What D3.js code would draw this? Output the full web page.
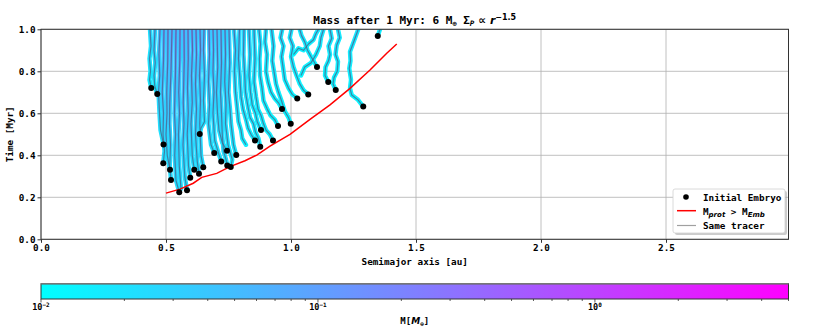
<!DOCTYPE html>
<html>
<head>
<meta charset="utf-8">
<script src="https://cdn.jsdelivr.net/npm/d3@7/dist/d3.min.js"></script>
<style>
body { margin: 0; background: #fff; }
text { font-family: "DejaVu Sans Mono", monospace; font-weight: bold; fill: #000; }
</style>
</head>
<body>
<div id="chart"></div>
<script>

// axis ticks
var xTicks = [0, 0.5, 1.0, 1.5, 2.0, 2.5];
var yTicks = [0, 0.2, 0.4, 0.6, 0.8, 1.0];

// initial embryos (semimajor axis [au], time [Myr])
var embryoA = [0.441, 0.465, 0.490, 0.489, 0.516, 0.520, 0.553, 0.584, 0.597, 0.613, 0.632, 0.635, 0.649,
	0.693, 0.721, 0.744, 0.745, 0.759, 0.781, 0.856, 0.877, 0.880, 0.928, 0.948, 0.964, 0.999,
	1.025, 1.069, 1.104, 1.149, 1.179, 1.289, 1.347];
var embryoT = [0.720, 0.692, 0.452, 0.362, 0.331, 0.282, 0.224, 0.233, 0.293, 0.331, 0.312, 0.501, 0.343,
	0.411, 0.371, 0.422, 0.352, 0.344, 0.401, 0.471, 0.441, 0.520, 0.471, 0.540, 0.620, 0.550,
	0.671, 0.690, 0.820, 0.749, 0.711, 0.632, 0.968];

// M_prot > M_Emb curve
var protA = [0.500, 0.556, 0.609, 0.643, 0.703, 0.756, 0.816, 0.863, 0.916, 0.996, 1.076, 1.156, 1.236, 1.316, 1.383, 1.423];
var protT = [0.220, 0.239, 0.267, 0.295, 0.314, 0.346, 0.374, 0.401, 0.444, 0.500, 0.571, 0.640, 0.719, 0.806, 0.886, 0.930];

// tracer tracks [a, t]
var tracks = [
	[[0.441,0.72],[0.434,0.76],[0.438,0.80],[0.434,0.86],[0.440,0.92],[0.436,1.0]],
	[[0.465,0.692],[0.455,0.73],[0.452,0.78],[0.457,0.84],[0.452,0.90],[0.456,1.0]],
	[[0.490,0.452],[0.478,0.52],[0.474,0.60],[0.470,0.70],[0.475,0.78],[0.472,0.88],[0.476,1.0]],
	[[0.489,0.362],[0.494,0.42],[0.488,0.50],[0.490,0.60],[0.485,0.70],[0.490,0.85],[0.492,1.0]],
	[[0.516,0.331],[0.505,0.40],[0.500,0.50],[0.504,0.60],[0.503,0.70],[0.507,0.85],[0.508,1.0]],
	[[0.520,0.282],[0.515,0.35],[0.518,0.45],[0.514,0.55],[0.515,0.65],[0.520,0.80],[0.524,1.0]],
	[[0.553,0.224],[0.540,0.28],[0.535,0.40],[0.538,0.50],[0.534,0.60],[0.538,0.80],[0.540,1.0]],
	[[0.560,0.240],[0.553,0.35],[0.550,0.50],[0.554,0.60],[0.551,0.70],[0.555,0.85],[0.556,1.0]],
	[[0.584,0.233],[0.575,0.30],[0.568,0.45],[0.572,0.55],[0.569,0.65],[0.573,0.85],[0.572,1.0]],
	[[0.597,0.293],[0.590,0.35],[0.585,0.50],[0.589,0.60],[0.586,0.72],[0.589,0.86],[0.588,1.0]],
	[[0.613,0.331],[0.605,0.40],[0.600,0.55],[0.605,0.65],[0.602,0.78],[0.606,0.90],[0.604,1.0]],
	[[0.632,0.312],[0.625,0.37],[0.618,0.50],[0.622,0.62],[0.618,0.74],[0.622,0.88],[0.620,1.0]],
	[[0.649,0.343],[0.640,0.40],[0.635,0.55],[0.638,0.66],[0.634,0.78],[0.638,0.90],[0.636,1.0]],
	[[0.635,0.501],[0.640,0.53],[0.654,0.56],[0.650,0.66],[0.654,0.78],[0.650,0.90],[0.652,1.0]],
	[[0.693,0.411],[0.680,0.45],[0.670,0.55],[0.674,0.64],[0.670,0.75],[0.674,0.88],[0.672,1.0]],
	[[0.721,0.371],[0.710,0.41],[0.695,0.47],[0.688,0.60],[0.692,0.70],[0.688,0.80],[0.690,0.90],[0.688,1.0]],
	[[0.744,0.422],[0.725,0.46],[0.712,0.52],[0.706,0.60],[0.702,0.70],[0.707,0.82],[0.704,1.0]],
	[[0.745,0.352],[0.740,0.38],[0.730,0.42],[0.725,0.50],[0.722,0.60],[0.718,0.70],[0.722,0.84],[0.720,1.0]],
	[[0.759,0.344],[0.765,0.38],[0.748,0.45],[0.738,0.55],[0.740,0.64],[0.735,0.75],[0.738,0.88],[0.736,1.0]],
	[[0.781,0.401],[0.770,0.45],[0.760,0.55],[0.756,0.62],[0.750,0.70],[0.755,0.84],[0.752,1.0]],
	[[0.820,0.450],[0.805,0.48],[0.800,0.52],[0.790,0.56],[0.785,0.62],[0.778,0.70],[0.774,0.80],[0.778,0.90],[0.772,1.0]],
	[[0.856,0.471],[0.840,0.50],[0.828,0.53],[0.820,0.57],[0.808,0.62],[0.800,0.68],[0.796,0.76],[0.790,0.86],[0.794,1.0]],
	[[0.877,0.441],[0.870,0.48],[0.858,0.51],[0.850,0.55],[0.836,0.58],[0.828,0.63],[0.818,0.70],[0.815,0.78],[0.810,0.88],[0.812,1.0]],
	[[0.880,0.520],[0.865,0.56],[0.858,0.60],[0.845,0.64],[0.838,0.70],[0.832,0.78],[0.836,0.88],[0.832,1.0]],
	[[0.928,0.471],[0.915,0.50],[0.900,0.52],[0.890,0.55],[0.880,0.59],[0.868,0.62],[0.860,0.68],[0.852,0.75],[0.856,0.86],[0.852,1.0]],
	[[0.948,0.540],[0.935,0.57],[0.918,0.59],[0.905,0.62],[0.890,0.66],[0.884,0.72],[0.876,0.78],[0.874,0.86],[0.878,0.93],[0.872,1.0]],
	[[0.964,0.620],[0.950,0.65],[0.935,0.67],[0.920,0.70],[0.908,0.75],[0.900,0.80],[0.904,0.88],[0.896,0.94],[0.900,1.0]],
	[[0.999,0.550],[0.990,0.58],[0.975,0.61],[0.962,0.66],[0.950,0.70],[0.940,0.74],[0.932,0.80],[0.925,0.85],[0.930,0.92],[0.922,1.0]],
	[[1.025,0.671],[1.005,0.69],[0.990,0.72],[0.975,0.76],[0.968,0.82],[0.962,0.87],[0.970,0.92],[0.958,0.96],[0.965,1.0]],
	[[1.069,0.690],[1.050,0.71],[1.035,0.74],[1.022,0.78],[1.010,0.82],[1.000,0.87],[1.008,0.92],[0.995,0.96],[1.002,1.0]],
	[[1.104,0.820],[1.090,0.85],[1.080,0.87],[1.066,0.90],[1.055,0.94],[1.042,0.97],[1.035,1.0]],
	[[1.149,0.749],[1.136,0.78],[1.138,0.82],[1.150,0.85],[1.156,0.88],[1.150,0.92],[1.163,0.957],[1.156,1.0]],
	[[1.179,0.711],[1.168,0.74],[1.172,0.77],[1.185,0.80],[1.188,0.846],[1.178,0.88],[1.183,0.925],[1.195,0.96],[1.188,1.0]],
	[[1.289,0.632],[1.268,0.664],[1.243,0.687],[1.236,0.719],[1.240,0.76],[1.233,0.814],[1.238,0.85],[1.236,0.893],[1.256,0.957],[1.268,0.997]],
	[[1.347,0.968],[1.356,1.0]],
	[[1.010,0.880],[1.030,0.91],[1.050,0.90],[1.070,0.93],[1.090,0.95],[1.100,0.98],[1.110,1.0]],
	[[1.040,0.780],[1.055,0.82],[1.080,0.84],[1.100,0.88],[1.115,0.92],[1.120,0.96],[1.130,1.0]]
];

// mass of each track at its start and at its top end [M_earth]
var massStart = [0.015,0.016,0.018,0.02,0.02,0.02,0.02,0.02,0.02,0.02,0.02,0.02,0.02,0.018,0.018,0.018,0.018,0.018,
	0.016,0.016,0.014,0.014,0.014,0.014,0.013,0.012,0.012,0.012,0.012,0.012,0.012,0.012,0.012,0.012,0.012,0.012,0.012];
var massEnd = [0.035,0.05,0.08,0.12,0.13,0.14,0.15,0.15,0.15,0.14,0.14,0.13,0.12,0.09,0.11,0.10,0.10,0.09,
	0.08,0.07,0.05,0.05,0.045,0.04,0.035,0.03,0.028,0.028,0.028,0.028,0.025,0.025,0.025,0.025,0.022,0.025,0.025];

// colorbar
var cbarDomain = [0.01, 5];
var cbarMajor = [0.01, 0.1, 1];
var cbarMajorExp = ["\u22122", "\u22121", "0"];
var cbarMinor = [0.02,0.03,0.04,0.05,0.06,0.07,0.08,0.09,0.2,0.3,0.4,0.5,0.6,0.7,0.8,0.9,2,3,4,5];


var W = 830, H = 332;
var plot = { left: 41, right: 788.5, top: 29.3, bottom: 239.3 };

var svg = d3.select("#chart").append("svg")
	.attr("width", W)
	.attr("height", H);

var x = d3.scaleLinear().domain([0, 2.99]).range([plot.left, plot.right]);
var y = d3.scaleLinear().domain([0, 1]).range([plot.bottom, plot.top]);

// matplotlib "cool" colormap on a log mass axis
var logNorm = d3.scaleLog().domain(cbarDomain).range([0, 1]).clamp(true);
function cool(t) { return d3.rgb(255 * t, 255 * (1 - t), 255).formatHex(); }
function massColor(m) { return cool(logNorm(m)); }

var defs = svg.append("defs");
defs.append("clipPath").attr("id", "plotclip")
	.append("rect")
		.attr("x", plot.left).attr("y", plot.top)
		.attr("width", plot.right - plot.left).attr("height", plot.bottom - plot.top);

// grid
var grid = svg.append("g").attr("class", "grid");
grid.selectAll("line.gx").data(xTicks).enter().append("line")
	.attr("x1", function(d){ return x(d) }).attr("x2", function(d){ return x(d) })
	.attr("y1", plot.top).attr("y2", plot.bottom)
	.attr("stroke", "#b0b0b0").attr("stroke-width", 0.8);
grid.selectAll("line.gy").data(yTicks).enter().append("line")
	.attr("y1", function(d){ return y(d) }).attr("y2", function(d){ return y(d) })
	.attr("x1", plot.left).attr("x2", plot.right)
	.attr("stroke", "#b0b0b0").attr("stroke-width", 0.8);

/*
 *	TRACKS
 */
var line = d3.line()
	.x(function(d){ return x(d[0]) })
	.y(function(d){ return y(d[1]) });

var g = svg.append("g").attr("clip-path", "url(#plotclip)");

tracks.forEach(function(tr, i){
	var last = tr[tr.length - 1];
	var grad = defs.append("linearGradient")
		.attr("id", "trk" + i)
		.attr("gradientUnits", "userSpaceOnUse")
		.attr("x1", 0).attr("x2", 0)
		.attr("y1", y(tr[0][1])).attr("y2", y(last[1]));
	grad.append("stop").attr("offset", 0).attr("stop-color", massColor(massStart[i]));
	grad.append("stop").attr("offset", 1).attr("stop-color", massColor(massEnd[i]));
});

// marker edges (low mass halo)
g.selectAll("path.halo").data(tracks).enter().append("path")
	.attr("class", "halo")
	.attr("d", line)
	.attr("fill", "none")
	.attr("stroke", function(d, i){ return massColor(massStart[i] * 1.2) })
	.attr("stroke-width", 4.4)
	.attr("stroke-linejoin", "round")
	.attr("stroke-linecap", "round");

// coloured mass markers along the tracks
g.selectAll("path.mass").data(tracks).enter().append("path")
	.attr("class", "mass")
	.attr("d", line)
	.attr("fill", "none")
	.attr("stroke", function(d, i){ return "url(#trk" + i + ")" })
	.attr("stroke-width", 2.8)
	.attr("stroke-linejoin", "round")
	.attr("stroke-linecap", "round");

// same tracer lines
g.selectAll("path.tracer").data(tracks).enter().append("path")
	.attr("class", "tracer")
	.attr("d", line)
	.attr("fill", "none")
	.attr("stroke", "#4a5a80")
	.attr("stroke-opacity", 0.7)
	.attr("stroke-width", 1.2)
	.attr("stroke-linejoin", "round");

// M_prot > M_Emb
g.append("path")
	.datum(protA.map(function(a, i){ return [a, protT[i]] }))
	.attr("d", line)
	.attr("fill", "none")
	.attr("stroke", "#ff0000")
	.attr("stroke-width", 1.5);

// initial embryos
g.selectAll("circle.emb").data(embryoA).enter().append("circle")
	.attr("class", "emb")
	.attr("cx", function(d){ return x(d) })
	.attr("cy", function(d, i){ return y(embryoT[i]) })
	.attr("r", 3)
	.attr("fill", "#000");

/*
 *	AXES
 */
var xAxis = svg.append("g")
	.attr("transform", "translate(0," + plot.bottom + ")")
	.call(d3.axisBottom(x).tickValues(xTicks).tickFormat(d3.format(".1f")).tickSize(3.5).tickPadding(2));
var yAxis = svg.append("g")
	.attr("transform", "translate(" + plot.left + ",0)")
	.call(d3.axisLeft(y).tickValues(yTicks).tickFormat(d3.format(".1f")).tickSize(3.5).tickPadding(2));
[xAxis, yAxis].forEach(function(ax){
	ax.select(".domain").remove();
	ax.selectAll(".tick line").attr("stroke", "#333");
	ax.selectAll(".tick text").style("font-size", "9.3px").attr("fill", "#000");
});

// frame
svg.append("rect")
	.attr("x", plot.left).attr("y", plot.top)
	.attr("width", plot.right - plot.left).attr("height", plot.bottom - plot.top)
	.attr("fill", "none").attr("stroke", "#333").attr("stroke-width", 1);

// labels
svg.append("text")
	.attr("x", (plot.left + plot.right) / 2).attr("y", 265)
	.attr("text-anchor", "middle").style("font-size", "9.3px")
	.text("Semimajor axis [au]");
svg.append("text")
	.attr("transform", "translate(13," + ((plot.top + plot.bottom) / 2) + ") rotate(-90)")
	.attr("text-anchor", "middle").style("font-size", "9.3px")
	.text("Time [Myr]");

// title
var title = svg.append("text")
	.attr("x", (plot.left + plot.right) / 2).attr("y", 24)
	.attr("text-anchor", "middle").style("font-size", "11px");
title.append("tspan").text("Mass after 1 Myr: 6 M");
title.append("tspan").attr("font-size", "7px").attr("dy", 2).text("\u2295");
title.append("tspan").attr("dy", -2).text(" \u03a3");
title.append("tspan").attr("font-size", "7.5px").attr("dy", 2).attr("font-style", "italic").text("P");
title.append("tspan").attr("dy", -2).attr("font-family", "DejaVu Sans").text(" \u221d ");
title.append("tspan").attr("font-style", "italic").attr("font-family", "DejaVu Sans").text("r");
title.append("tspan").attr("font-size", "8px").attr("dy", -4).attr("font-family", "DejaVu Sans").text("\u22121.5");

/*
 *	LEGEND
 */
var lg = svg.append("g").attr("transform", "translate(673,189)");
lg.append("rect").attr("x", 2).attr("y", 2).attr("width", 112).attr("height", 44)
	.attr("rx", 2).attr("fill", "#999").attr("opacity", 0.5);
lg.append("rect").attr("width", 112).attr("height", 44).attr("rx", 2)
	.attr("fill", "#fff").attr("stroke", "#d0d0d0").attr("stroke-width", 0.8);
lg.append("circle").attr("cx", 13).attr("cy", 8).attr("r", 2.8).attr("fill", "#000");
lg.append("line").attr("x1", 4).attr("x2", 23).attr("y1", 21.7).attr("y2", 21.7)
	.attr("stroke", "#ff0000").attr("stroke-width", 1.5);
lg.append("line").attr("x1", 4).attr("x2", 23).attr("y1", 36.5).attr("y2", 36.5)
	.attr("stroke", "#a0a0a0").attr("stroke-width", 1.2);
lg.append("text").attr("x", 30).attr("y", 11.5).style("font-size", "9.3px").text("Initial Embryo");
var l2 = lg.append("text").attr("x", 30).attr("y", 25.5).style("font-size", "9.3px");
l2.append("tspan").text("M");
l2.append("tspan").attr("font-size", "7px").attr("dy", 2).attr("font-style", "italic").attr("font-family", "DejaVu Sans").text("prot");
l2.append("tspan").attr("dy", -2).text(" > M");
l2.append("tspan").attr("font-size", "7px").attr("dy", 2).attr("font-style", "italic").attr("font-family", "DejaVu Sans").text("Emb");
lg.append("text").attr("x", 30).attr("y", 40).style("font-size", "9.3px").text("Same tracer");

/*
 *	COLORBAR
 */
var cb = { left: 41, right: 788.5, top: 283.7, bottom: 299 };
var cx = d3.scaleLog().domain(cbarDomain).range([cb.left, cb.right]);
var cgrad = defs.append("linearGradient").attr("id", "cbar")
	.attr("x1", 0).attr("x2", 1).attr("y1", 0).attr("y2", 0);
cgrad.append("stop").attr("offset", 0).attr("stop-color", cool(0));
cgrad.append("stop").attr("offset", 1).attr("stop-color", cool(1));

svg.append("rect")
	.attr("x", cb.left).attr("y", cb.top)
	.attr("width", cb.right - cb.left).attr("height", cb.bottom - cb.top)
	.attr("fill", "url(#cbar)").attr("stroke", "#333").attr("stroke-width", 1);
svg.append("line")
	.attr("x1", cb.left).attr("x2", cb.right).attr("y1", cb.top).attr("y2", cb.top)
	.attr("stroke", "#777").attr("stroke-width", 1.6);

svg.selectAll("line.cminor").data(cbarMinor).enter().append("line")
	.attr("x1", function(d){ return cx(d) }).attr("x2", function(d){ return cx(d) })
	.attr("y1", cb.bottom).attr("y2", cb.bottom + 2)
	.attr("stroke", "#333").attr("stroke-width", 0.8);
svg.selectAll("line.cmajor").data(cbarMajor).enter().append("line")
	.attr("x1", function(d){ return cx(d) }).attr("x2", function(d){ return cx(d) })
	.attr("y1", cb.bottom).attr("y2", cb.bottom + 3.5)
	.attr("stroke", "#333").attr("stroke-width", 0.8);

cbarMajor.forEach(function(v, i){
	var t = svg.append("text")
		.attr("x", cx(v)).attr("y", 310)
		.attr("text-anchor", "middle").style("font-size", "8.5px");
	t.append("tspan").text("10");
	t.append("tspan").attr("font-size", "6px").attr("dy", -3).text(cbarMajorExp[i]);
});

var cl = svg.append("text")
	.attr("x", (cb.left + cb.right) / 2).attr("y", 324)
	.attr("text-anchor", "middle").style("font-size", "9px");
cl.append("tspan").text("M[");
cl.append("tspan").attr("font-style", "italic").attr("font-family", "DejaVu Sans").text("M");
cl.append("tspan").attr("font-size", "6px").attr("dy", 2).text("\u2295");
cl.append("tspan").attr("dy", -2).text("]");

</script>
</body>
</html>
